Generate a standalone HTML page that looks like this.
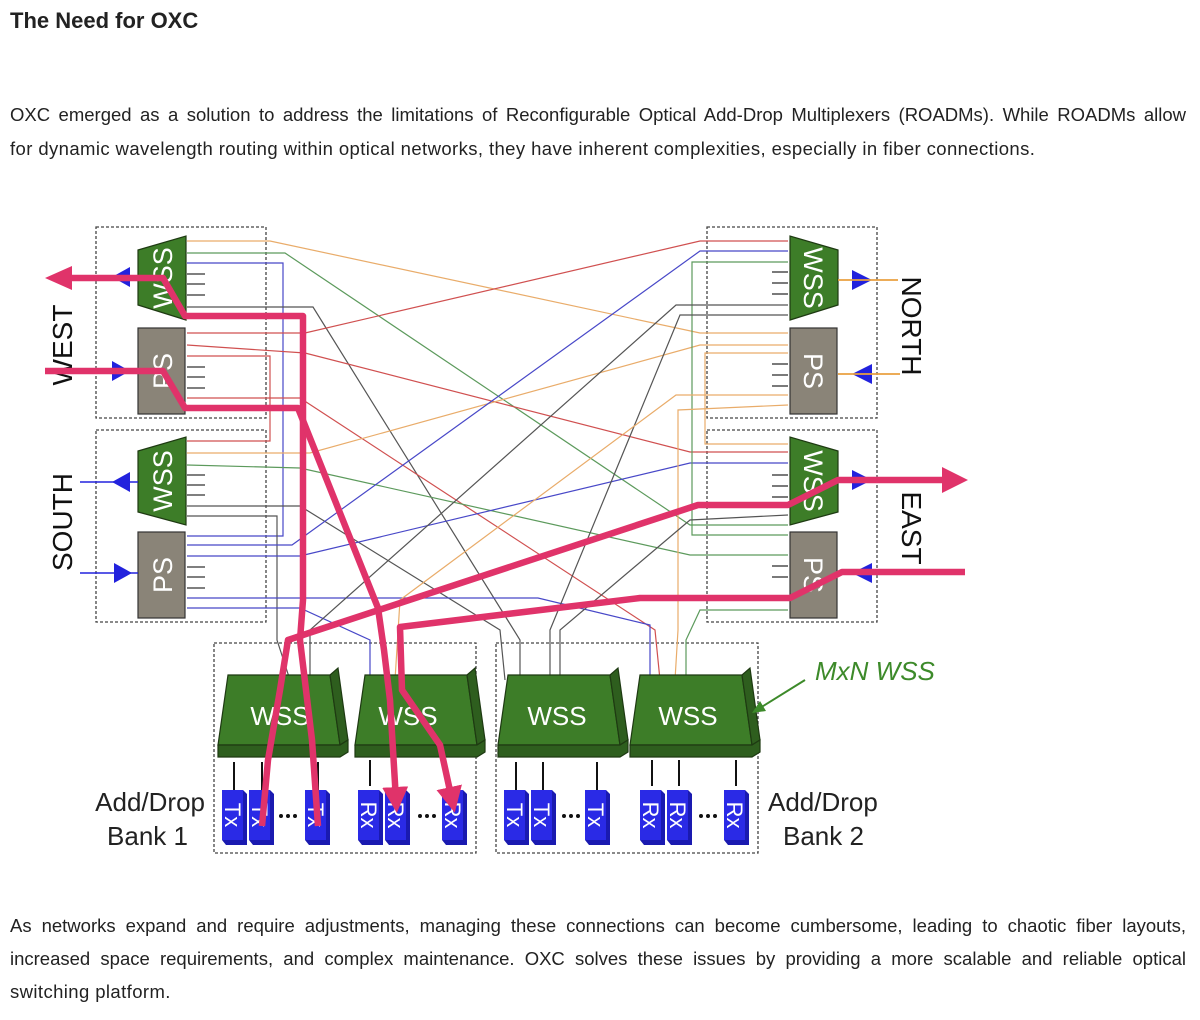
<!DOCTYPE html>
<html><head><meta charset="utf-8"><style>
html,body{margin:0;padding:0;background:#fff;}
body{width:1200px;height:1020px;position:relative;overflow:hidden;font-family:"Liberation Sans",sans-serif;color:#222;}
.t{position:absolute;left:10px;top:8px;font-size:22px;font-weight:bold;}
.l{position:absolute;left:10px;width:1176px;font-size:18.5px;letter-spacing:0.4px;white-space:nowrap;}
.j{text-align:justify;text-align-last:justify;letter-spacing:0;}
svg{position:absolute;left:0;top:0;}
</style></head><body>
<div class="t">The Need for OXC</div>
<div class="l j" style="top:104px">OXC emerged as a solution to address the limitations of Reconfigurable Optical Add-Drop Multiplexers (ROADMs). While ROADMs allow</div>
<div class="l" style="top:138px">for dynamic wavelength routing within optical networks, they have inherent complexities, especially in fiber connections.</div>
<div class="l j" style="top:915px">As networks expand and require adjustments, managing these connections can become cumbersome, leading to chaotic fiber layouts,</div>
<div class="l j" style="top:948px">increased space requirements, and complex maintenance. OXC solves these issues by providing a more scalable and reliable optical</div>
<div class="l" style="top:981px">switching platform.</div>

<svg width="1200" height="1020" viewBox="0 0 1200 1020" font-family="Liberation Sans, sans-serif">
<defs>
<marker id="ah" markerWidth="4" markerHeight="4" refX="2" refY="2" orient="auto" markerUnits="strokeWidth"><path d="M0,0 L4,2 L0,4 z" fill="#e0336a"/></marker>
</defs>
<g fill="none" stroke="#444" stroke-width="1.3" stroke-dasharray="3,2">
<rect x="96" y="227" width="170" height="191"/>
<rect x="96" y="430" width="170" height="192"/>
<rect x="707" y="227" width="170" height="191"/>
<rect x="707" y="430" width="170" height="192"/>
<rect x="214" y="643" width="262" height="210"/>
<rect x="496" y="643" width="262" height="210"/>
</g>
<g fill="none" stroke-width="1.2">
<polyline stroke="#e9ac6a" points="187,241 270,241 700,333 788,333"/>
<polyline stroke="#5c9a5c" points="187,253 285,253 690,525 788,525"/>
<polyline stroke="#4848c8" points="187,263 283,263 283,536 187,536"/>
<polyline stroke="#555" points="187,307 313,307 520,640 520,680"/>
<polyline stroke="#d05050" points="187,333 305,333 700,241 788,241"/>
<polyline stroke="#d05050" points="187,345 305,353 690,452 788,452"/>
<polyline stroke="#d05050" points="187,356 270,356 270,441 187,441"/>
<polyline stroke="#d05050" points="187,398 300,398 655,630 660,680"/>
<polyline stroke="#e9ac6a" points="187,453 310,453 700,345 788,345"/>
<polyline stroke="#5c9a5c" points="187,465 300,468 690,555 788,555"/>
<polyline stroke="#555" points="187,506 300,506 500,630 505,680"/>
<polyline stroke="#555" points="187,516 277,516 277,640 290,680"/>
<polyline stroke="#4848c8" points="187,545 292,545 700,251 788,251"/>
<polyline stroke="#4848c8" points="187,556 300,556 690,463 788,463"/>
<polyline stroke="#4848c8" points="187,598 538,598 650,625 650,680"/>
<polyline stroke="#4848c8" points="187,608 300,608 370,640 370,680"/>
<polyline stroke="#5c9a5c" points="788,262 692,262 692,535 788,535"/>
<polyline stroke="#555" points="788,305 676,305 310,630 310,680"/>
<polyline stroke="#555" points="788,315 680,315 550,630 550,680"/>
<polyline stroke="#e9ac6a" points="788,353 705,353 705,444 788,444"/>
<polyline stroke="#e9ac6a" points="788,395 676,395 400,600 395,680"/>
<polyline stroke="#e9ac6a" points="788,405 678,410 678,630 675,680"/>
<polyline stroke="#555" points="788,515 690,520 560,630 560,680"/>
<polyline stroke="#5c9a5c" points="788,610 700,610 686,640 686,680"/>
</g>
<g stroke="#333" stroke-width="1.3">
<line x1="187" y1="274" x2="205" y2="274"/><line x1="187" y1="284" x2="205" y2="284"/><line x1="187" y1="295" x2="205" y2="295"/>
<line x1="187" y1="367" x2="205" y2="367"/><line x1="187" y1="377" x2="205" y2="377"/><line x1="187" y1="388" x2="205" y2="388"/>
<line x1="187" y1="475" x2="205" y2="475"/><line x1="187" y1="485" x2="205" y2="485"/><line x1="187" y1="495" x2="205" y2="495"/>
<line x1="187" y1="567" x2="205" y2="567"/><line x1="187" y1="577" x2="205" y2="577"/><line x1="187" y1="588" x2="205" y2="588"/>
<line x1="772" y1="272" x2="788" y2="272"/><line x1="772" y1="283" x2="788" y2="283"/><line x1="772" y1="294" x2="788" y2="294"/>
<line x1="772" y1="364" x2="788" y2="364"/><line x1="772" y1="375" x2="788" y2="375"/><line x1="772" y1="386" x2="788" y2="386"/>
<line x1="772" y1="475" x2="788" y2="475"/><line x1="772" y1="486" x2="788" y2="486"/><line x1="772" y1="497" x2="788" y2="497"/>
<line x1="772" y1="566" x2="788" y2="566"/><line x1="772" y1="577" x2="788" y2="577"/>
</g>
<g stroke="#1e3a12" stroke-width="1.2">
<polygon points="138,250 186,236 186,320 138,305" fill="#3d7d28"/>
<polygon points="138,451 186,437 186,525 138,512" fill="#3d7d28"/>
<polygon points="838,250 790,236 790,320 838,305" fill="#3d7d28"/>
<polygon points="838,451 790,437 790,525 838,512" fill="#3d7d28"/>
</g>
<g stroke="#333" stroke-width="1.2" fill="#8a8478">
<rect x="138" y="328" width="47" height="86"/><rect x="138" y="532" width="47" height="86"/>
<rect x="790" y="328" width="47" height="86"/><rect x="790" y="532" width="47" height="86"/>
</g>
<g fill="#fff" font-size="27" text-anchor="middle">
<text transform="translate(172,278) rotate(-90)">WSS</text>
<text transform="translate(172,371) rotate(-90)">PS</text>
<text transform="translate(172,481) rotate(-90)">WSS</text>
<text transform="translate(172,575) rotate(-90)">PS</text>
<text transform="translate(804,278) rotate(90)">WSS</text>
<text transform="translate(804,371) rotate(90)">PS</text>
<text transform="translate(804,481) rotate(90)">WSS</text>
<text transform="translate(804,575) rotate(90)">PS</text>
</g>
<g fill="#2222dd">
<polygon points="112,277 130,267 130,287"/>
<polygon points="130,371 112,361 112,381"/>
<polygon points="112,482 130,472 130,492"/>
<polygon points="132,573 114,563 114,583"/>
<polygon points="872,280 852,270 852,290"/>
<polygon points="852,374 872,364 872,384"/>
<polygon points="872,480 852,470 852,490"/>
<polygon points="852,573 872,563 872,583"/>
</g>
<g stroke="#2222dd" stroke-width="1.5"><line x1="80" y1="482" x2="138" y2="482"/><line x1="80" y1="573" x2="138" y2="573"/></g>
<g stroke="#e9a040" stroke-width="1.8"><line x1="838" y1="280" x2="898" y2="280"/><line x1="838" y1="374" x2="900" y2="374"/></g>
<g fill="#111" font-size="28" text-anchor="middle">
<text transform="translate(72,345) rotate(-90)">WEST</text>
<text transform="translate(72,522) rotate(-90)">SOUTH</text>
<text transform="translate(902,326) rotate(90)">NORTH</text>
<text transform="translate(902,528) rotate(90)">EAST</text>
</g>
<g stroke="#1e3a12" stroke-width="1.2">
<g id="w"><polygon points="228,675 330,675 340,745 218,745" fill="#3d7d28"/><polygon points="330,675 338,668 348,740 340,745" fill="#2e5e1e"/><polygon points="218,745 340,745 348,740 348,752 340,757 218,757" fill="#2e5e1e"/></g>
<use href="#w" x="137"/><use href="#w" x="280"/><use href="#w" x="412"/>
</g>
<g fill="#fff" font-size="26" text-anchor="middle">
<text x="280" y="725">WSS</text><text x="408" y="725">WSS</text><text x="557" y="725">WSS</text><text x="688" y="725">WSS</text>
</g>
<g stroke="#111" stroke-width="2">
<line x1="234" y1="790" x2="234" y2="762"/><line x1="262" y1="790" x2="262" y2="762"/><line x1="318" y1="790" x2="318" y2="762"/>
<line x1="370" y1="760" x2="370" y2="786"/>
<line x1="516" y1="790" x2="516" y2="762"/><line x1="543" y1="790" x2="543" y2="762"/><line x1="597" y1="790" x2="597" y2="762"/>
<line x1="652" y1="760" x2="652" y2="786"/><line x1="679" y1="760" x2="679" y2="786"/><line x1="736" y1="760" x2="736" y2="786"/>
</g>
<g id="b"><polygon points="222,790 243,790 247,794 247,845 226,845 222,840" fill="#1a1ab0"/><rect x="222" y="790" width="21" height="50" fill="#2a2ae6"/></g>
<use href="#b" x="27"/><use href="#b" x="83"/><use href="#b" x="136"/><use href="#b" x="163"/><use href="#b" x="220"/>
<use href="#b" x="282"/><use href="#b" x="309"/><use href="#b" x="363"/><use href="#b" x="418"/><use href="#b" x="445"/><use href="#b" x="502"/>
<g fill="#fff" font-size="22" text-anchor="middle">
<text transform="translate(225,815) rotate(90)">Tx</text><text transform="translate(252,815) rotate(90)">Tx</text><text transform="translate(308,815) rotate(90)">Tx</text>
<text transform="translate(361,815) rotate(90)">Rx</text><text transform="translate(388,815) rotate(90)">Rx</text><text transform="translate(445,815) rotate(90)">Rx</text>
<text transform="translate(507,815) rotate(90)">Tx</text><text transform="translate(534,815) rotate(90)">Tx</text><text transform="translate(588,815) rotate(90)">Tx</text>
<text transform="translate(643,815) rotate(90)">Rx</text><text transform="translate(670,815) rotate(90)">Rx</text><text transform="translate(727,815) rotate(90)">Rx</text>
</g>
<g fill="#111"><circle cx="281" cy="816" r="2"/><circle cx="288" cy="816" r="2"/><circle cx="295" cy="816" r="2"/>
<circle cx="420" cy="816" r="2"/><circle cx="427" cy="816" r="2"/><circle cx="434" cy="816" r="2"/>
<circle cx="564" cy="816" r="2"/><circle cx="571" cy="816" r="2"/><circle cx="578" cy="816" r="2"/>
<circle cx="701" cy="816" r="2"/><circle cx="708" cy="816" r="2"/><circle cx="715" cy="816" r="2"/></g>
<g fill="#222" font-size="26">
<text x="205" y="811" text-anchor="end">Add/Drop</text><text x="188" y="845" text-anchor="end">Bank 1</text>
<text x="768" y="811">Add/Drop</text><text x="783" y="845">Bank 2</text>
</g>
<text x="815" y="680" fill="#3d8a2a" font-size="26" font-style="italic">MxN WSS</text>
<line x1="805" y1="680" x2="760" y2="708" stroke="#3d8a2a" stroke-width="2"/>
<polygon points="752,713 760,701 766,711" fill="#3d8a2a"/>
<g fill="none" stroke="#e0336a" stroke-width="6.5" stroke-linejoin="round">
<polyline points="318,826 312,740 300,640 303,600 303,316 185,316 163,278 65,278"/>
<polyline points="45,371 163,371 185,408 298,408 378,608 384,650 390,700 396,800" marker-end="url(#ah)"/>
<polyline points="965,572 842,572 790,598 640,598 400,627 402,690 440,745 452,800" marker-end="url(#ah)"/>
<polyline points="262,826 268,760 280,690 288,640 318,630 698,505 788,505 838,480 945,480"/>
</g>
<polygon points="45,278 72,266 72,290" fill="#e0336a"/>
<polygon points="968,480 942,467 942,493" fill="#e0336a"/>
</svg>
</body></html>
